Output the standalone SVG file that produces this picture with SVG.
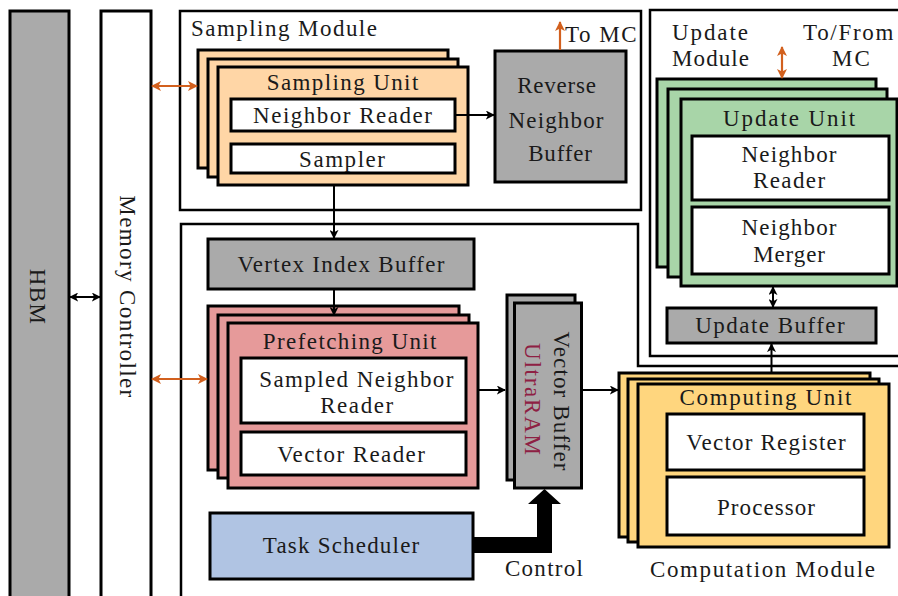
<svg xmlns="http://www.w3.org/2000/svg" width="898" height="596" viewBox="0 0 898 596">
  <defs>
    <style>
      .box { stroke: #000; stroke-width: 3; }
      .mod { fill: #fff; stroke: #000; stroke-width: 2.5; }
      .gray { fill: #aaaaaa; }
      .white { fill: #fff; }
      .peach { fill: #ffd6a6; }
      .pink { fill: #e69a9a; }
      .gold { fill: #ffd67e; }
      .green { fill: #a8d5a8; }
      .blue { fill: #b0c4e3; }
      .t { font-family: 'Liberation Serif', 'Times New Roman', serif; font-size: 23px; letter-spacing: 1.4px; fill: #1a1a1a; }
      .c { text-anchor: middle; }
      .wire { fill: none; stroke: #000; stroke-width: 2; }
      .owire { fill: none; stroke: #d2601e; stroke-width: 2.2; }
    </style>
    <marker id="ah" viewBox="0 0 10 10" refX="9" refY="5" markerWidth="9" markerHeight="9" markerUnits="userSpaceOnUse" orient="auto-start-reverse">
      <path d="M0,0 L10,5 L0,10 L2.5,5 z" fill="#000"/>
    </marker>
    <marker id="oh" viewBox="0 0 10 10" refX="9" refY="5" markerWidth="10" markerHeight="10" markerUnits="userSpaceOnUse" orient="auto-start-reverse">
      <path d="M0,0 L10,5 L0,10 L2.5,5 z" fill="#d2601e"/>
    </marker>
  </defs>

  <rect width="898" height="596" fill="#fff"/>

  <!-- HBM -->
  <g id="hbm">
    <rect class="box gray" x="10" y="11" width="59" height="600"/>
    <text class="t c" style="letter-spacing:1.3px" transform="translate(29.5,297) rotate(90)">HBM</text>
  </g>

  <!-- Memory controller -->
  <g id="memory-controller">
    <rect class="box white" x="101" y="11" width="50" height="600"/>
    <text class="t c" transform="translate(120,297) rotate(90)">Memory Controller</text>
  </g>

  <!-- Sampling module -->
  <g id="sampling-module">
    <rect class="mod" x="180" y="11" width="461" height="199"/>
    <text class="t" style="letter-spacing:1.46px" x="191" y="36">Sampling Module</text>
    <text class="t" style="letter-spacing:1.5px" x="565" y="42">To MC</text>
  </g>

  <g id="sampling-unit">
    <rect class="box peach" x="198" y="50" width="250" height="118"/>
    <rect class="box peach" x="208" y="59" width="250" height="118"/>
    <rect class="box peach" x="218" y="67" width="250" height="118"/>
    <text class="t c" x="343.2" y="90">Sampling Unit</text>
  </g>
  <g id="neighbor-reader">
    <rect class="box white" x="231" y="99" width="224" height="32"/>
    <text class="t c" style="letter-spacing:1.5px" x="343.2" y="123">Neighbor Reader</text>
  </g>
  <g id="sampler">
    <rect class="box white" x="231" y="144" width="224" height="29"/>
    <text class="t c" style="letter-spacing:1.55px" x="342.8" y="167">Sampler</text>
  </g>

  <g id="reverse-neighbor-buffer">
    <rect class="box gray" x="495" y="51" width="131" height="131"/>
    <text class="t c" style="letter-spacing:0.8px" x="557" y="92.5">Reverse</text>
    <text class="t c" style="letter-spacing:1.15px" x="556.6" y="127.5">Neighbor</text>
    <text class="t c" style="letter-spacing:0.8px" x="560.4" y="161">Buffer</text>
  </g>

  <!-- Update module -->
  <g id="update-module">
    <path class="mod" d="M900 10 H650 V356 H900"/>
    <text class="t" style="letter-spacing:1.9px" x="672" y="39.5">Update</text>
    <text class="t" style="letter-spacing:1.1px" x="672" y="65.5">Module</text>
    <text class="t" style="letter-spacing:1.7px" x="803" y="40">To/From</text>
    <text class="t c" style="letter-spacing:2px" x="852" y="66">MC</text>
  </g>

  <g id="update-unit">
    <rect class="box green" x="657" y="79" width="219" height="188"/>
    <rect class="box green" x="668" y="89" width="219" height="188"/>
    <rect class="box green" x="681" y="99" width="216" height="187"/>
    <text class="t c" style="letter-spacing:1.9px" x="790" y="126">Update Unit</text>
  </g>
  <g id="update-neighbor-reader">
    <rect class="box white" x="692" y="136" width="197" height="64"/>
    <text class="t c" style="letter-spacing:1.15px" x="789.6" y="161.5">Neighbor</text>
    <text class="t c" x="789.7" y="187.5">Reader</text>
  </g>
  <g id="neighbor-merger">
    <rect class="box white" x="692" y="207" width="197" height="67"/>
    <text class="t c" style="letter-spacing:1.15px" x="789.6" y="235">Neighbor</text>
    <text class="t c" style="letter-spacing:0.9px" x="789.5" y="261.5">Merger</text>
  </g>

  <g id="update-buffer">
    <rect class="box gray" x="667" y="308" width="209" height="35"/>
    <text class="t c" style="letter-spacing:1.48px" x="770.7" y="333">Update Buffer</text>
  </g>

  <!-- Lower module outline -->
  <g id="prefetch-module">
    <path class="mod" d="M181 600 V224 H638 V366 H900" fill="none"/>
  </g>

  <g id="vertex-index-buffer">
    <rect class="box gray" x="208" y="239" width="266" height="50"/>
    <text class="t c" style="letter-spacing:1.3px" x="341.6" y="271.5">Vertex Index Buffer</text>
  </g>

  <g id="prefetching-unit">
    <rect class="box pink" x="208" y="306" width="251" height="164"/>
    <rect class="box pink" x="218" y="315" width="251" height="163"/>
    <rect class="box pink" x="228" y="323" width="250" height="165"/>
    <text class="t c" x="350.4" y="349.3">Prefetching Unit</text>
  </g>
  <g id="sampled-neighbor-reader">
    <rect class="box white" x="241" y="358" width="225" height="65"/>
    <text class="t c" x="357" y="386.7">Sampled Neighbor</text>
    <text class="t c" style="letter-spacing:1.6px" x="357.5" y="412.7">Reader</text>
  </g>
  <g id="vector-reader">
    <rect class="box white" x="241" y="432" width="225" height="43"/>
    <text class="t c" x="351.7" y="461.7">Vector Reader</text>
  </g>

  <g id="vector-buffer">
    <rect class="box gray" x="507" y="295" width="68" height="185"/>
    <rect class="box gray" x="514.5" y="303" width="67" height="185"/>
    <text class="t c" style="letter-spacing:1.13px" transform="translate(553.5,401.6) rotate(90)">Vector Buffer</text>
    <text class="t c" style="letter-spacing:1.76px;fill:#8e2043" transform="translate(525,399.9) rotate(90)">UltraRAM</text>
  </g>

  <g id="task-scheduler">
    <rect class="box blue" x="210" y="513" width="263" height="66"/>
    <text class="t c" style="letter-spacing:1.2px" x="341.6" y="553.3">Task Scheduler</text>
  </g>

  <!-- Computation module -->
  <g id="computing-unit">
    <rect class="box gold" x="619" y="373" width="251" height="164"/>
    <rect class="box gold" x="628" y="379" width="251" height="163"/>
    <rect class="box gold" x="638" y="384" width="251" height="163"/>
    <text class="t c" style="letter-spacing:1.68px" x="766.3" y="405">Computing Unit</text>
  </g>
  <g id="vector-register">
    <rect class="box white" x="667" y="414" width="197" height="56"/>
    <text class="t c" style="letter-spacing:1.21px" x="766.6" y="450">Vector Register</text>
  </g>
  <g id="processor">
    <rect class="box white" x="667" y="477" width="197" height="58"/>
    <text class="t c" style="letter-spacing:1.07px" x="766.5" y="515">Processor</text>
  </g>
  <g id="computation-module">
    <text class="t c" style="letter-spacing:1.62px" x="763.3" y="577">Computation Module</text>
  </g>

  <!-- Connectors -->
  <g id="connectors">
    <line class="wire" x1="70" y1="297" x2="100" y2="297" marker-start="url(#ah)" marker-end="url(#ah)"/>
    <line class="wire" x1="456" y1="115" x2="494" y2="115" marker-end="url(#ah)"/>
    <line class="wire" x1="334" y1="185" x2="334" y2="238" marker-end="url(#ah)"/>
    <line class="wire" x1="334" y1="289" x2="334" y2="315" marker-end="url(#ah)"/>
    <line class="wire" x1="478" y1="390" x2="505" y2="390" marker-end="url(#ah)"/>
    <line class="wire" x1="582" y1="390" x2="618" y2="390" marker-end="url(#ah)"/>
    <line class="wire" x1="771.5" y1="373" x2="771.5" y2="344" marker-end="url(#ah)"/>
    <line class="wire" x1="773" y1="287" x2="773" y2="307" marker-start="url(#ah)" marker-end="url(#ah)"/>

    <line class="owire" x1="152" y1="86" x2="197" y2="86" marker-start="url(#oh)" marker-end="url(#oh)"/>
    <line class="owire" x1="152" y1="379" x2="207" y2="379" marker-start="url(#oh)" marker-end="url(#oh)"/>
    <line class="owire" x1="560" y1="50" x2="560" y2="22" marker-end="url(#oh)"/>
    <line class="owire" x1="782" y1="47" x2="782" y2="78" marker-start="url(#oh)" marker-end="url(#oh)"/>

    <!-- thick control path from the task scheduler to the vector buffer -->
    <polygon points="473,537 537,537 537,504 528,504 544.5,489 561,504 552,504 552,553 473,553" fill="#000"/>
    <text class="t c" style="letter-spacing:1.28px" x="544.6" y="576">Control</text>
  </g>
</svg>
